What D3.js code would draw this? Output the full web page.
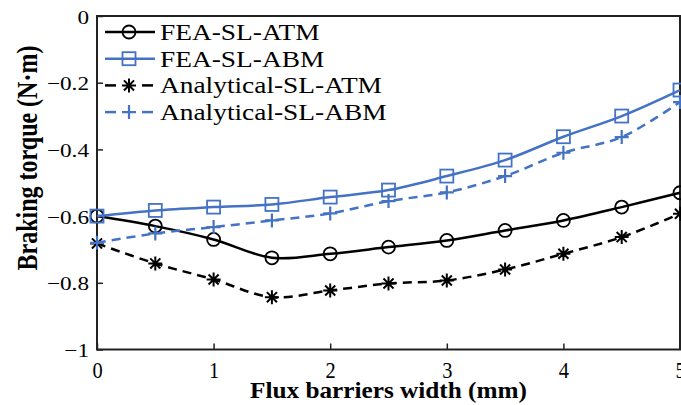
<!DOCTYPE html>
<html>
<head>
<meta charset="utf-8">
<script src="https://cdn.jsdelivr.net/npm/d3@7"></script>
<style>
  body { margin: 0; background: #fff; }
  svg { display: block; }
  text { font-family: "Liberation Serif", "Times New Roman", serif; fill: #000; }
</style>
</head>
<body>
<svg id="chart" width="681" height="405"></svg>
<script>
// data
var widths = [0, 0.5, 1, 1.5, 2, 2.5, 3, 3.5, 4, 4.5, 5];
var feaAtm = [-0.60, -0.63, -0.67, -0.725, -0.713, -0.693, -0.673, -0.643, -0.613, -0.573, -0.53];
var feaAbm = [-0.60, -0.583, -0.573, -0.565, -0.543, -0.522, -0.48, -0.432, -0.362, -0.30, -0.222];
var anaAtm = [-0.682, -0.742, -0.79, -0.843, -0.823, -0.802, -0.793, -0.76, -0.713, -0.663, -0.593];
var anaAbm = [-0.68, -0.652, -0.633, -0.613, -0.592, -0.555, -0.529, -0.48, -0.41, -0.363, -0.258];
var seriesNames = ['FEA-SL-ATM', 'FEA-SL-ABM', 'Analytical-SL-ATM', 'Analytical-SL-ABM'];
var xTicks = [0, 1, 2, 3, 4, 5];
var yTicks = [0, -0.2, -0.4, -0.6, -0.8, -1];

var black = '#000000', blue = '#4472c4';
var series = [
  { name: seriesNames[0], values: feaAtm, color: black, dash: null, marker: 'circle' },
  { name: seriesNames[1], values: feaAbm, color: blue, dash: null, marker: 'square' },
  { name: seriesNames[2], values: anaAtm, color: black, dash: '9,6', marker: 'star' },
  { name: seriesNames[3], values: anaAbm, color: blue, dash: '9,6', marker: 'plus' }
];

var plot = { left: 97, right: 680, top: 16, bottom: 349.5 };

// the source figure is stretched sideways, so the text is too
function stretch(sel, k) {
  sel.each(function() {
    var w = this.getComputedTextLength();
    d3.select(this).attr('textLength', w * k).attr('lengthAdjust', 'spacingAndGlyphs');
  });
}

var svg = d3.select('#chart');

var x = d3.scaleLinear().domain([0, 5]).range([plot.left, plot.right]);
var y = d3.scaleLinear().domain([-1, 0]).range([plot.bottom, plot.top]);

// axes (ticks pointing inward)
var xAxis = svg.append('g')
  .attr('transform', 'translate(0,' + plot.bottom + ')')
  .call(d3.axisBottom(x).tickValues(xTicks).tickSizeInner(-6).tickSizeOuter(0).tickFormat(d3.format('d')));
xAxis.select('.domain').remove();
xAxis.selectAll('.tick line').attr('stroke', '#222').attr('stroke-width', 1.5);
xAxis.selectAll('.tick text')
  .attr('y', 28.5).attr('dy', 0)
  .attr('font-size', 24)
  .attr('font-family', '"Liberation Serif", serif')
  .call(stretch, 0.85);

var yFmt = function(d) { return d === 0 ? '0' : '\u2212' + Math.abs(d); };
var yAxis = svg.append('g')
  .attr('transform', 'translate(' + plot.left + ',0)')
  .call(d3.axisLeft(y).tickValues(yTicks).tickSizeInner(-6).tickSizeOuter(0).tickFormat(yFmt));
yAxis.select('.domain').remove();
yAxis.selectAll('.tick line').attr('stroke', '#222').attr('stroke-width', 1.5);
yAxis.selectAll('.tick text')
  .attr('x', -8).attr('dy', '0.36em')
  .attr('font-size', 19.5)
  .attr('font-family', '"Liberation Serif", serif')
  .call(stretch, 1.19);

// frame
svg.append('rect')
  .attr('x', plot.left).attr('y', plot.top)
  .attr('width', plot.right - plot.left).attr('height', plot.bottom - plot.top)
  .attr('fill', 'none').attr('stroke', '#222').attr('stroke-width', 2);

// marker drawing
function drawMarker(g, type, color) {
  if (type === 'circle') {
    g.append('circle').attr('r', 6.5).attr('fill', 'none').attr('stroke', color).attr('stroke-width', 1.8);
  } else if (type === 'square') {
    g.append('rect').attr('x', -6.5).attr('y', -6.5).attr('width', 13).attr('height', 13)
      .attr('fill', 'none').attr('stroke', color).attr('stroke-width', 1.8);
  } else if (type === 'star') {
    var s = 7;
    g.append('path')
      .attr('d', 'M0,' + -s + 'V' + s + 'M' + -s + ',0H' + s +
        'M' + (-s * 0.72) + ',' + (-s * 0.72) + 'L' + (s * 0.72) + ',' + (s * 0.72) +
        'M' + (-s * 0.72) + ',' + (s * 0.72) + 'L' + (s * 0.72) + ',' + (-s * 0.72))
      .attr('stroke', color).attr('stroke-width', 2).attr('fill', 'none');
  } else if (type === 'plus') {
    var p = 7;
    g.append('path')
      .attr('d', 'M0,' + -p + 'V' + p + 'M' + -p + ',0H' + p)
      .attr('stroke', color).attr('stroke-width', 2.2).attr('fill', 'none');
  }
}

var line = d3.line()
  .x(function(d) { return x(d[0]); })
  .y(function(d) { return y(d[1]); })
  .curve(d3.curveCatmullRom.alpha(0.5));

var lines = svg.append('g');
series.forEach(function(s) {
  var pts = widths.map(function(w, i) { return [w, s.values[i]]; });
  lines.append('path')
    .datum(pts)
    .attr('d', line)
    .attr('fill', 'none')
    .attr('stroke', s.color)
    .attr('stroke-width', 2.5)
    .attr('stroke-dasharray', s.dash);
  pts.forEach(function(p) {
    var g = lines.append('g').attr('transform', 'translate(' + x(p[0]) + ',' + y(p[1]) + ')');
    drawMarker(g, s.marker, s.color);
  });
});

// legend
var legend = svg.append('g');
series.forEach(function(s, i) {
  var ly = 32 + i * 26.7;
  var g = legend.append('g').attr('transform', 'translate(0,' + ly + ')');
  if (s.dash) {
    g.append('line').attr('x1', 105).attr('x2', 116).attr('stroke', s.color).attr('stroke-width', 2.5);
    g.append('line').attr('x1', 142).attr('x2', 153).attr('stroke', s.color).attr('stroke-width', 2.5);
  } else {
    g.append('line').attr('x1', 105).attr('x2', 155).attr('stroke', s.color).attr('stroke-width', 2.5);
  }
  var m = g.append('g').attr('transform', 'translate(129,0)');
  drawMarker(m, s.marker, s.color);
  g.append('text')
    .attr('x', 160).attr('dy', '0.35em')
    .attr('font-size', 23)
    .text(s.name)
    .call(stretch, 1.19);
});

// axis titles
svg.append('text')
  .attr('x', (plot.left + plot.right) / 2)
  .attr('y', 398)
  .attr('text-anchor', 'middle')
  .attr('font-size', 23)
  .attr('font-weight', 'bold')
  .text('Flux barriers width (mm)')
  .attr('textLength', 277).attr('lengthAdjust', 'spacingAndGlyphs');

var yTitle = svg.append('text')
  .attr('text-anchor', 'middle')
  .attr('font-size', 23)
  .attr('font-weight', 'bold')
  .text('Braking torque (N\u00b7m)');
var natural = yTitle.node().getComputedTextLength();
yTitle.attr('font-size', 23 * 225 / natural)
  .attr('transform', 'translate(37,158) scale(1.19,1) rotate(-90)');
</script>
</body>
</html>
